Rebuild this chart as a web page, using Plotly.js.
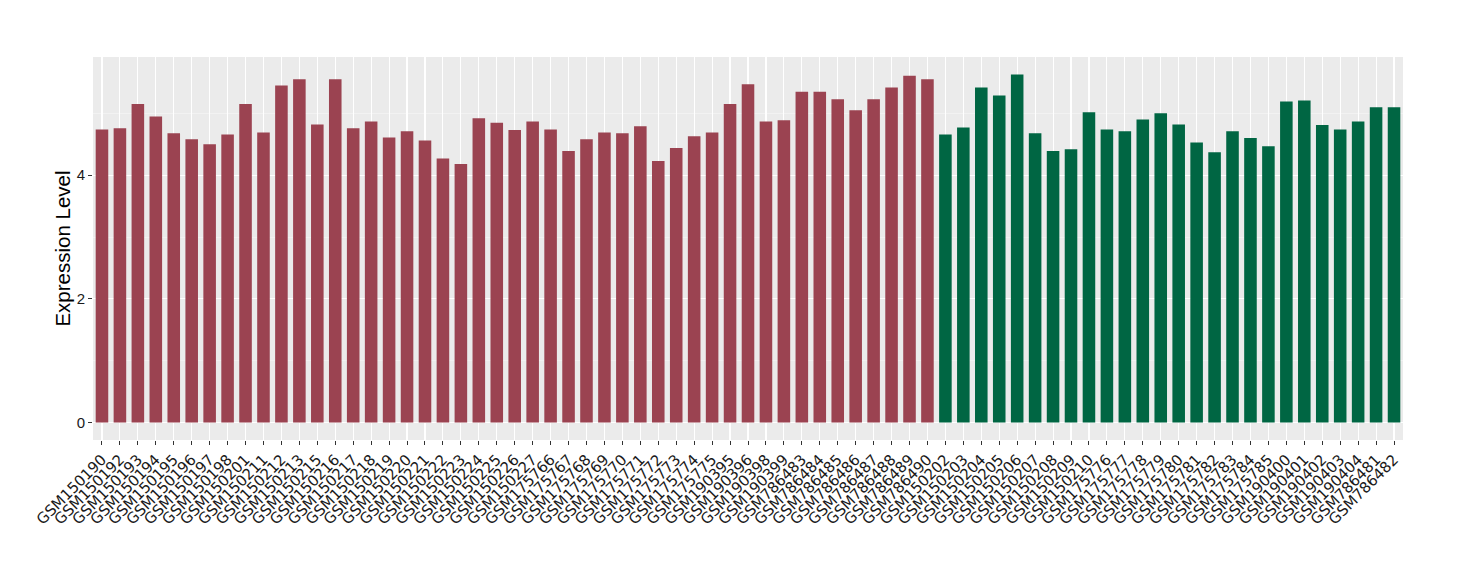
<!DOCTYPE html>
<html>
<head>
<meta charset="utf-8">
<script src="https://cdn.plot.ly/plotly-3.0.1.min.js"></script>
<style>html,body{margin:0;padding:0;background:#fff;}#chart{width:1460px;height:580px;}</style>
</head>
<body>
<div id="chart"></div>
<script>
const groupASamples = ["GSM150190","GSM150192","GSM150193","GSM150194","GSM150195","GSM150196","GSM150197","GSM150198","GSM150201","GSM150211","GSM150212","GSM150213","GSM150215","GSM150216","GSM150217","GSM150218","GSM150219","GSM150220","GSM150221","GSM150222","GSM150223","GSM150224","GSM150225","GSM150226","GSM150227","GSM175766","GSM175767","GSM175768","GSM175769","GSM175770","GSM175771","GSM175772","GSM175773","GSM175774","GSM175775","GSM190395","GSM190396","GSM190398","GSM190399","GSM786483","GSM786484","GSM786485","GSM786486","GSM786487","GSM786488","GSM786489","GSM786490"];
const groupAValues = [4.74,4.76,5.15,4.95,4.68,4.58,4.50,4.66,5.15,4.69,5.45,5.55,4.82,5.55,4.76,4.87,4.61,4.71,4.56,4.27,4.18,4.92,4.85,4.73,4.87,4.74,4.39,4.58,4.69,4.68,4.79,4.23,4.44,4.63,4.69,5.15,5.47,4.87,4.89,5.35,5.35,5.23,5.05,5.23,5.42,5.61,5.55];
const groupBSamples = ["GSM150202","GSM150203","GSM150204","GSM150205","GSM150206","GSM150207","GSM150208","GSM150209","GSM150210","GSM175776","GSM175777","GSM175778","GSM175779","GSM175780","GSM175781","GSM175782","GSM175783","GSM175784","GSM175785","GSM190400","GSM190401","GSM190402","GSM190403","GSM190404","GSM786481","GSM786482"];
const groupBValues = [4.66,4.77,5.42,5.29,5.63,4.68,4.39,4.42,5.02,4.74,4.71,4.90,5.00,4.82,4.53,4.37,4.71,4.60,4.47,5.19,5.21,4.81,4.74,4.87,5.10,5.10];
const yTickVals = [0,2,4];
const yTickText = ["0","2","4"];

const allSamples = groupASamples.concat(groupBSamples);
const traces = [
  {type:'bar', x:groupASamples, y:groupAValues, marker:{color:'#9b4351'}, showlegend:false, hoverinfo:'x+y'},
  {type:'bar', x:groupBSamples, y:groupBValues, marker:{color:'#006643'}, showlegend:false, hoverinfo:'x+y'}
];
const allMax = Math.max(...groupAValues, ...groupBValues);
const layout = {
  width:1460, height:580,
  margin:{l:93, r:57, t:57, b:140, pad:0},
  paper_bgcolor:'#ffffff',
  plot_bgcolor:'#ebebeb',
  barmode:'relative',
  bargap:0.3,
  font:{family:'Liberation Sans, Arial, sans-serif', color:'#1a1a1a'},
  xaxis:{
    type:'category',
    tickmode:'array', tickvals:allSamples, ticktext:allSamples,
    tickangle:-45,
    showgrid:true, gridcolor:'#ffffff', gridwidth:1.1,
    ticks:'outside', ticklen:4, tickcolor:'#333333', tickwidth:1,
    tickfont:{family:'DejaVu Sans, sans-serif', size:15, color:'#1a1a1a'},
    zeroline:false, showline:false,
    automargin:false
  },
  yaxis:{
    range:[-0.05*allMax, allMax*1.05],
    tickvals:yTickVals, ticktext:yTickText,
    showgrid:true, gridcolor:'#ffffff', gridwidth:1.1,
    minor:{dtick:1, tick0:0, showgrid:true, gridcolor:'#f7f7f7', gridwidth:0.6},
    ticks:'outside', ticklen:4, tickcolor:'#333333', tickwidth:1,
    tickfont:{size:15, color:'#1a1a1a'},
    zeroline:false, showline:false,
    title:{text:'Expression Level', font:{size:20.5, color:'#000000'}, standoff:0},
    automargin:false
  }
};
Plotly.newPlot('chart', traces, layout, {displayModeBar:false, staticPlot:true});
</script>
</body>
</html>
